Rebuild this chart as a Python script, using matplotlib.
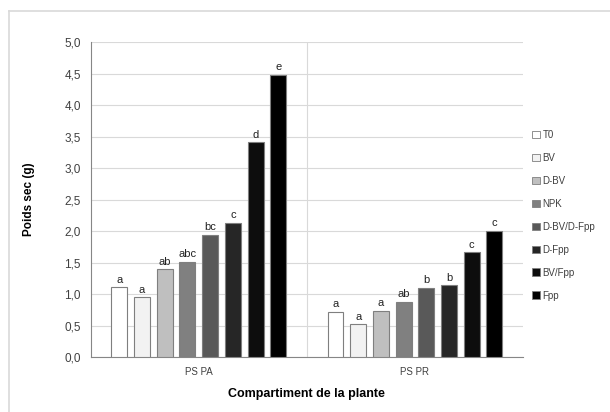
import numpy as np
import matplotlib.pyplot as plt
from matplotlib.patches import Patch
from matplotlib.lines import Line2D

plt.rcParams['font.family'] = ['Liberation Sans', 'DejaVu Sans']

# --- données ---
categories = ['PS PA', 'PS PR']
treatments = ['T0', 'BV', 'D-BV', 'NPK', 'D-BV/D-Fpp', 'D-Fpp', 'BV/Fpp', 'Fpp']
colors = ['#ffffff', '#f2f2f2', '#bfbfbf', '#808080', '#595959', '#262626', '#0d0d0d', '#000000']
ps_pa = [1.11, 0.95, 1.39, 1.51, 1.94, 2.13, 3.41, 4.48]
ps_pr = [0.72, 0.52, 0.73, 0.88, 1.10, 1.14, 1.66, 2.00]
letters_pa = ['a', 'a', 'ab', 'abc', 'bc', 'c', 'd', 'e']
letters_pr = ['a', 'a', 'a', 'ab', 'b', 'b', 'c', 'c']

values = np.array([ps_pa, ps_pr])
letters = [letters_pa, letters_pr]

fig = plt.figure(figsize=(6.10, 4.12), dpi=100)
# cadre du graphique (haut et gauche visibles)
fig.add_artist(Line2D([0.0148, 1.0], [0.973, 0.973], transform=fig.transFigure, color='#d9d9d9', lw=1.2))
fig.add_artist(Line2D([0.0148, 0.0148], [0.0, 0.973], transform=fig.transFigure, color='#d9d9d9', lw=1.2))

ax = fig.add_axes([0.1487, 0.1335, 0.7087, 0.7645])

x = np.arange(len(categories))
step = 0.105
width = 0.074
for i, t in enumerate(treatments):
    off = (i - 3.5) * step
    bars = ax.bar(x + off, values[:, i], width, color=colors[i],
                  edgecolor='#7f7f7f', linewidth=0.8, zorder=3)
    for j, b in enumerate(bars):
        ax.text(b.get_x() + b.get_width() / 2, b.get_height() + 0.04, letters[j][i],
                ha='center', va='bottom', fontsize=8, color='#222222')

ax.set_xlim(-0.5, 1.5)
ax.set_ylim(0, 5)
yt = np.arange(0, 5.01, 0.5)
ax.set_yticks(yt)
ax.set_yticklabels([f'{v:.1f}'.replace('.', ',') for v in yt], fontsize=8.5, color='#404040')
ax.set_xticks(x)
ax.set_xticklabels(categories, fontsize=7, color='#404040')
ax.tick_params(axis='both', length=0, pad=7)
ax.yaxis.grid(True, color='#d9d9d9', linewidth=0.8, zorder=0)
ax.axvline(0.5, color='#d9d9d9', linewidth=0.8, zorder=0)
for s in ['top', 'right']:
    ax.spines[s].set_visible(False)
ax.spines['left'].set_color('#868686')
ax.spines['bottom'].set_color('#868686')

ax.set_ylabel('Poids sec (g)', fontsize=8.5, fontweight='bold')
ax.yaxis.set_label_coords(-0.129, 0.5)
ax.set_xlabel('Compartiment de la plante', fontsize=9, fontweight='bold')
ax.xaxis.set_label_coords(0.5, -0.10)

handles = [Patch(facecolor=c, edgecolor='#7f7f7f', linewidth=0.6) for c in colors]
ax.legend(handles, treatments, loc='center left', bbox_to_anchor=(1.0, 0.45),
          frameon=False, fontsize=7, handlelength=0.8, handleheight=0.8,
          handletextpad=0.3, labelspacing=1.33, labelcolor='#404040')

plt.savefig('out.png', dpi=100)
